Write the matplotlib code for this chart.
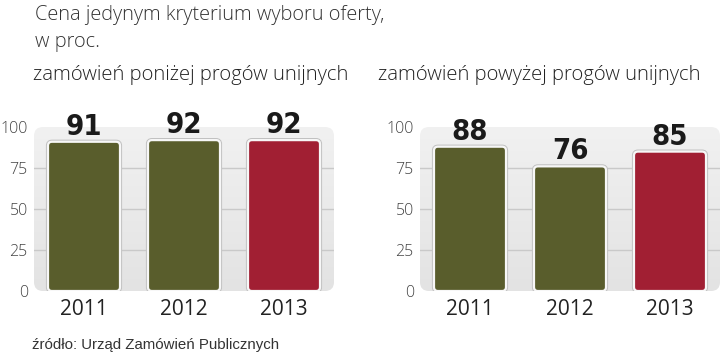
import numpy as np
import matplotlib
matplotlib.use("Agg")
import matplotlib.pyplot as plt
from matplotlib.patches import FancyBboxPatch
import matplotlib.patheffects as pe
from matplotlib import font_manager as fm

# ---- data ----
years = ["2011", "2012", "2013"]
below_eu = [91, 92, 92]
above_eu = [88, 76, 85]
yticks = [0, 25, 50, 75, 100]
title = "Cena jedynym kryterium wyboru oferty,\nw proc."
sub_left = "zamówień poniżej progów unijnych"
sub_right = "zamówień powyżej progów unijnych"
source = "źródło: Urząd Zamówień Publicznych"

OLIVE = "#595d2c"
RED = "#a11f33"
bar_colors = [OLIVE, OLIVE, RED]


def find_font(preds):
    for pred in preds:
        for f in fm.fontManager.ttflist:
            try:
                if pred(f):
                    return fm.FontProperties(fname=f.fname)
            except Exception:
                pass
    return None


def wnum(f):
    w = f.weight
    if isinstance(w, str):
        return {"light": 300, "normal": 400, "regular": 400, "bold": 700}.get(w, 400)
    return w


def not_cond(f):
    n = f.fname.lower()
    return ("cond" not in n and "narrow" not in n and "italic" not in n
            and f.stretch == "normal" and f.style == "normal")


narrow_fp = find_font([
    lambda f: "narrow" in f.fname.lower() and "liberation" in f.fname.lower()
    and "bold" in f.fname.lower() and "italic" not in f.fname.lower(),
    lambda f: "condensed" in f.fname.lower() and "bold" in f.fname.lower()
    and "oblique" not in f.fname.lower() and "italic" not in f.fname.lower(),
    lambda f: f.stretch in ("condensed", "semi-condensed") and wnum(f) >= 700
    and f.style == "normal",
])
if narrow_fp is None:
    narrow_fp = fm.FontProperties(family="DejaVu Sans", weight="bold")

light_fp = find_font([
    lambda f: f.name == "Open Sans" and wnum(f) == 300 and not_cond(f),
    lambda f: f.name == "Lato" and wnum(f) == 300 and not_cond(f),
    lambda f: f.name == "Roboto" and wnum(f) == 300 and not_cond(f),
])
if light_fp is None:
    light_fp = fm.FontProperties(family="Open Sans")

base = "Open Sans"

W, H = 720, 354
fig = plt.figure(figsize=(7.2, 3.54), dpi=100)
fig.patch.set_facecolor("white")


def lp(size):
    p = light_fp.copy()
    p.set_size(size)
    return p


def panel(left_px, values):
    ax = fig.add_axes([left_px / W, (H - 291) / H, 300 / W, 164 / H])
    ax.set_xlim(-0.5, 2.5)
    ax.set_ylim(0, 100)
    ax.set_facecolor("none")
    for s in ax.spines.values():
        s.set_visible(False)
    grad = np.linspace(0, 1, 256).reshape(-1, 1)
    im = ax.imshow(grad, extent=[-0.5, 2.5, 0, 100], aspect="auto",
                   cmap=matplotlib.colors.LinearSegmentedColormap.from_list(
                       "g", ["#f1f1f1", "#e3e3e3"]),
                   origin="upper", zorder=0)
    bg = FancyBboxPatch((0, 0), 1, 1, boxstyle="round,pad=0,rounding_size=0.03",
                        transform=ax.transAxes, facecolor="none", edgecolor="none",
                        mutation_aspect=300 / 164)
    ax.add_patch(bg)
    im.set_clip_path(bg)
    for t in yticks[1:-1]:
        ax.axhline(t, color="#c9c9c9", lw=1.0, zorder=1)
    bars = ax.bar(range(len(years)), values, width=0.72, color=bar_colors)
    xpx = 3 / 300
    ypx = 100 / 164
    vfp = narrow_fp.copy()
    vfp.set_size(21)
    for b in bars:
        x, y = b.get_x(), b.get_y()
        w, h = b.get_width(), b.get_height()
        b.set_visible(False)
        p = FancyBboxPatch((x, y), w, h,
                           boxstyle="round,pad=0,rounding_size=%f" % (4 * xpx),
                           mutation_aspect=ypx / xpx,
                           facecolor=b.get_facecolor(), edgecolor="#f7f7f7",
                           lw=1.6, zorder=3)
        p.set_path_effects([pe.Stroke(linewidth=3.0, foreground="#c0c0c0"), pe.Normal()])
        ax.add_patch(p)
        ax.annotate(f"{h:.0f}", (x + w / 2, h), xytext=(0, 5), textcoords="offset points",
                    ha="center", va="baseline", fontproperties=vfp,
                    color="#1a1a1a", annotation_clip=False)
    ax.set_yticks(yticks)
    ax.set_yticklabels([str(t) for t in yticks], fontproperties=lp(11.5), color="#444444")
    ax.set_xticks(range(len(years)))
    ax.set_xticklabels(years, family=base, fontsize=15, color="#222222")
    ax.tick_params(length=0)
    ax.tick_params(axis="y", pad=4.5)
    ax.tick_params(axis="x", pad=6)
    return ax


panel(34, below_eu)
panel(420, above_eu)

fig.text(35 / W, 1 - 20 / H, title.split("\n")[0], fontproperties=lp(14.4),
         color="#333333", va="baseline")
fig.text(35 / W, 1 - 47 / H, title.split("\n")[1], fontproperties=lp(14.4),
         color="#333333", va="baseline")
fig.text(33 / W, 1 - 80 / H, sub_left, fontproperties=lp(14.6),
         color="#222222", va="baseline")
fig.text(378 / W, 1 - 80 / H, sub_right, fontproperties=lp(14.6),
         color="#222222", va="baseline")
fig.text(32 / W, 1 - 349 / H, source, family="Liberation Sans",
         fontsize=10.8, color="#333333", va="baseline")

fig.savefig("out.png", dpi=100, facecolor="white")
